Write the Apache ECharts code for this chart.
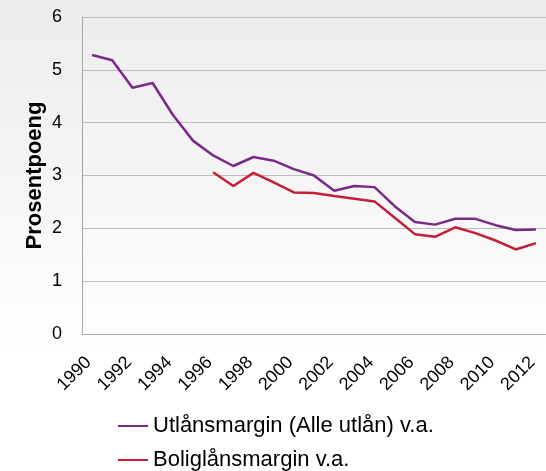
<!DOCTYPE html>
<html>
<head>
<meta charset="utf-8">
<script src="https://cdn.jsdelivr.net/npm/echarts@6/dist/echarts.min.js"></script>
<style>
html,body{margin:0;padding:0;}
#c{width:546px;height:471px;background:linear-gradient(to bottom,#ececec 0%,#f6f6f6 40%,#ffffff 75%,#ffffff 100%);}
</style>
</head>
<body>
<div id="c"></div>
<script>
const years = ['1990','1991','1992','1993','1994','1995','1996','1997','1998','1999','2000','2001','2002','2003','2004','2005','2006','2007','2008','2009','2010','2011','2012'];
const utlansmargin = [5.28,5.18,4.66,4.75,4.15,3.66,3.38,3.18,3.35,3.28,3.12,3.00,2.71,2.80,2.78,2.42,2.12,2.07,2.18,2.18,2.06,1.97,1.98];
const boliglansmargin = [null,null,null,null,null,null,3.06,2.80,3.05,2.87,2.68,2.67,2.61,2.56,2.51,2.20,1.89,1.84,2.02,1.91,1.77,1.60,1.72];
const seriesNames = ['Utlånsmargin (Alle utlån) v.a.','Boliglånsmargin v.a.'];
const yAxisName = 'Prosentpoeng';

const chart = echarts.init(document.getElementById('c'), null, {renderer:'canvas'});
const font = 'Liberation Sans, Arial, sans-serif';
const legendBase = {
  orient: 'vertical',
  left: 113,
  itemWidth: 30,
  itemHeight: 2,
  icon: 'rect',
  textStyle: {fontFamily: font, fontSize: 22, color: '#000'}
};
chart.setOption({
  backgroundColor: 'transparent',
  animation: false,
  textStyle: {fontFamily: font},
  grid: {left: 82, right: 0, top: 17, bottom: 137},
  legend: [
    Object.assign({}, legendBase, {top: 410, data: [seriesNames[0]]}),
    Object.assign({}, legendBase, {top: 444, data: [seriesNames[1]]})
  ],
  xAxis: {
    type: 'category',
    data: years,
    boundaryGap: true,
    axisLine: {lineStyle: {color: '#a6a6a6', width: 1}},
    axisTick: {inside: true, length: 5, lineStyle: {color: '#bdbdbd'}},
    axisLabel: {interval: 1, rotate: 45, margin: 22, padding: [0, 5, 0, 0], fontSize: 18, color: '#000', fontFamily: font},
    splitLine: {show: false}
  },
  yAxis: {
    type: 'value',
    min: 0, max: 6, interval: 1,
    name: yAxisName,
    nameLocation: 'middle',
    nameGap: 36,
    nameMoveOverlap: false,
    nameTextStyle: {fontSize: 22, fontWeight: 'bold', color: '#000', fontFamily: font},
    axisLine: {show: true, lineStyle: {color: '#a6a6a6', width: 1}},
    axisTick: {show: false},
    axisLabel: {margin: 20, fontSize: 18, color: '#000', fontFamily: font},
    splitLine: {lineStyle: {color: '#bdbdbd', width: 1}}
  },
  series: [
    {name: seriesNames[0], type: 'line', data: utlansmargin, symbol: 'none', lineStyle: {color: '#7A2A86', width: 2.5}, itemStyle: {color: '#7A2A86'}},
    {name: seriesNames[1], type: 'line', data: boliglansmargin, symbol: 'none', lineStyle: {color: '#C41E3A', width: 2.5}, itemStyle: {color: '#C41E3A'}}
  ]
});
</script>
</body>
</html>
